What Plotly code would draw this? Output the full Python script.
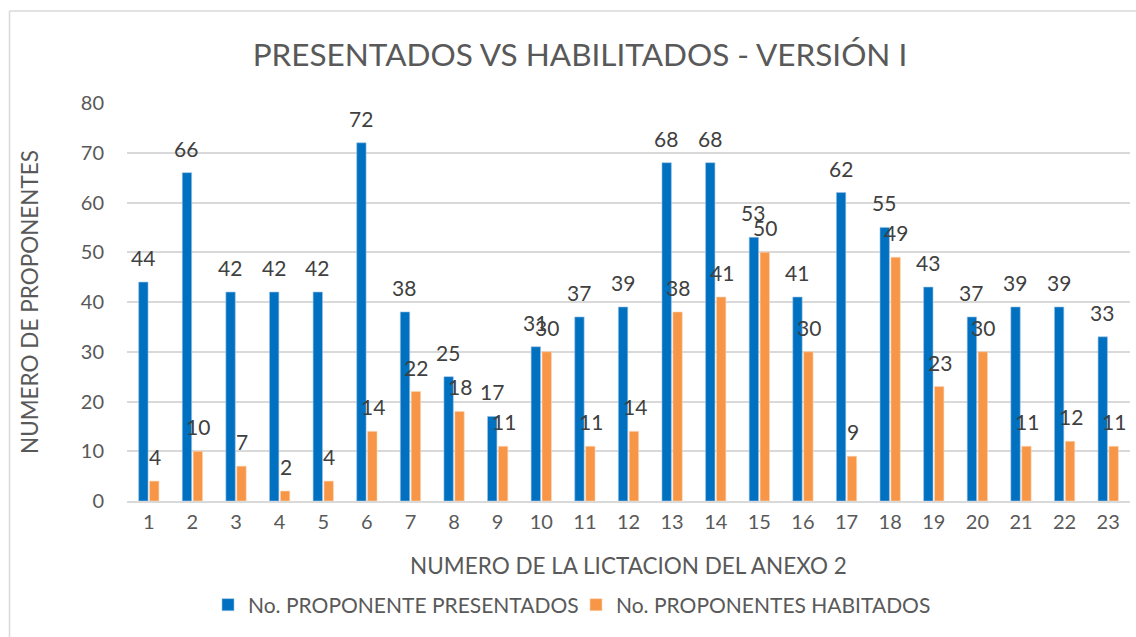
import plotly.graph_objects as go

categories = [str(i) for i in range(1, 24)]
presentados = [44, 66, 42, 42, 42, 72, 38, 25, 17, 31, 37, 39, 68, 68, 53, 41, 62, 55, 43, 37, 39, 39, 33]
habilitados = [4, 10, 7, 2, 4, 14, 22, 18, 11, 30, 11, 14, 38, 41, 50, 30, 9, 49, 23, 30, 11, 12, 11]
y_ticks = [0, 10, 20, 30, 40, 50, 60, 70, 80]

FONT = "Lato"
TXT = "#595959"
LBL = "#404040"

fig = go.Figure()
fig.add_trace(go.Bar(
    x=categories, y=presentados, name="No. PROPONENTE PRESENTADOS",
    marker=dict(color="#0070C0", line=dict(color="#9DC3E6", width=0.6)),
))
fig.add_trace(go.Bar(
    x=categories, y=habilitados, name="No. PROPONENTES HABITADOS",
    marker=dict(color="#F79646", line=dict(color="#FBD5B5", width=0.6)),
))

annotations = []
for series, shift in ((presentados, -6), (habilitados, 6)):
    for idx, v in enumerate(series):
        annotations.append(dict(
            x=idx, y=v, xref="x", yref="y", text=str(v), showarrow=False,
            xanchor="center", yanchor="bottom", xshift=shift, yshift=10,
            font=dict(family=FONT, size=21, color=LBL),
        ))

fig.update_layout(
    width=1136, height=637,
    paper_bgcolor="white", plot_bgcolor="white",
    barmode="group", bargap=0.5, bargroupgap=0.14,
    margin=dict(l=127, r=6, t=103, b=136, autoexpand=False),
    font=dict(family=FONT, color=TXT, size=16),
    title=dict(text="PRESENTADOS VS HABILITADOS - VERSIÓN I", x=580 / 1136, xref="container",
               xanchor="center", y=1 - 55 / 637, yref="container", yanchor="middle",
               font=dict(family=FONT, size=31.5, color=TXT)),
    xaxis=dict(type="category",
               title=dict(text="NUMERO DE LA LICTACION DEL ANEXO 2", standoff=26,
                          font=dict(family=FONT, size=22.5, color=TXT)),
               automargin=False,
               tickfont=dict(family=FONT, size=20, color=TXT), showgrid=False,
               showline=True, linecolor="#D9D9D9", linewidth=1.5, ticks="outside",
               ticklen=2, tickcolor="rgba(0,0,0,0)"),
    yaxis=dict(title=dict(text="NUMERO DE PROPONENTES", standoff=35,
                          font=dict(family=FONT, size=22.5, color=TXT)),
               automargin=False,
               range=[0, 80], tickvals=y_ticks, tickfont=dict(family=FONT, size=20, color=TXT),
               showgrid=True, gridcolor="#D9D9D9", gridwidth=1.5, zeroline=False,
               ticks="outside", ticklen=18, tickcolor="rgba(0,0,0,0)"),
    legend=dict(orientation="h", x=(576 - 127) / 1003, xanchor="center", y=-104 / 398,
                yanchor="middle", font=dict(family=FONT, size=21, color=TXT),
                traceorder="normal", itemwidth=30, entrywidth=323),
    showlegend=True,
    annotations=annotations,
    shapes=[
        dict(type="line", xref="paper", yref="paper", x0=(9.5 - 127) / 1003, x1=(9.5 - 127) / 1003,
             y0=(501 - 11) / 398, y1=(501 - 640) / 398, line=dict(color="#D9D9D9", width=1.5)),
        dict(type="line", xref="paper", yref="paper", x0=(9.5 - 127) / 1003, x1=(1140 - 127) / 1003,
             y0=(501 - 11) / 398, y1=(501 - 11) / 398, line=dict(color="#D9D9D9", width=1.5)),
    ],
)

fig.write_html("out.html", config={"displayModeBar": False},
               post_script="document.body.style.margin='0';")
